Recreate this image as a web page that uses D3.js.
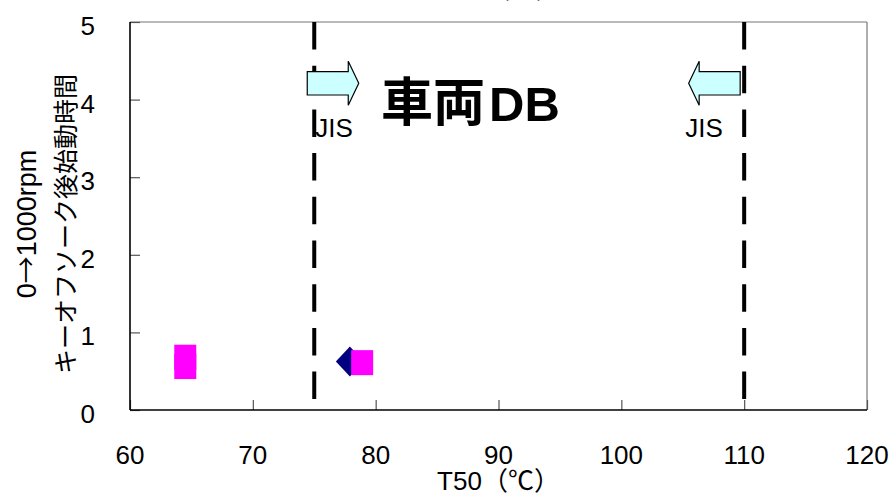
<!DOCTYPE html>
<html>
<head>
<meta charset="utf-8">
<script src="https://cdn.jsdelivr.net/npm/d3@7"></script>
<style>
  html, body { margin: 0; padding: 0; background: #fff; }
  svg { display: block; }
  text { font-family: "Liberation Sans", Arial, "Noto Sans CJK JP", sans-serif; fill: #000; }
  .jp { font-family: "Noto Sans CJK JP", "Liberation Sans", sans-serif; }
</style>
</head>
<body>
<svg id="chart" width="893" height="497"></svg>
<script>
// Axis ticks
const xTicks = [60, 70, 80, 90, 100, 110, 120];
const yTicks = [0, 1, 2, 3, 4, 5];

// Measured points: T50 (°C) vs. restart time after key-off soak
const pinkT50  = [64.5, 64.5, 78.9];
const pinkTime = [0.68, 0.56, 0.61];
const navyT50  = [77.9];
const navyTime = [0.625];

// JIS T50 limits and the arrows that point into the allowed range
const jisLimits = [75, 110];
const jisDirections = ["right", "left"];
const arrowLevel = 4.21;

const svg = d3.select("#chart");
const W = 893, H = 497;
const m = { left: 130, right: 26, top: 22, bottom: 87 };

const x = d3.scaleLinear().domain([60, 120]).range([m.left, W - m.right]);
const y = d3.scaleLinear().domain([0, 5]).range([H - m.bottom, m.top]);

// Figure title, sitting above the top edge of the page
svg.append("text").attr("class", "jp")
  .attr("x", 523).attr("y", -2)
  .attr("text-anchor", "middle")
  .style("font-size", "26px")
  .text("（ａ）");

// Frame: grey top/right, black left/bottom
svg.append("line").attr("x1", x(60)).attr("x2", x(120)).attr("y1", y(5)).attr("y2", y(5))
  .attr("stroke", "#777").attr("stroke-width", 1.2);
svg.append("line").attr("x1", x(120)).attr("x2", x(120)).attr("y1", y(5)).attr("y2", y(0))
  .attr("stroke", "#777").attr("stroke-width", 1.2);

// Inward ticks
const xAxis = d3.axisBottom(x).tickValues(xTicks).tickSize(-10).tickPadding(0).tickFormat("");
const yAxis = d3.axisLeft(y).tickValues(yTicks).tickSize(-10).tickPadding(0).tickFormat("");

const gx = svg.append("g").attr("transform", `translate(0,${y(0)})`).call(xAxis);
gx.select(".domain").remove();
gx.selectAll(".tick line").attr("stroke", "#555").attr("stroke-width", 1.2);

const gy = svg.append("g").attr("transform", `translate(${x(60)},0)`).call(yAxis);
gy.select(".domain").remove();
gy.selectAll(".tick line").attr("stroke", "#555").attr("stroke-width", 1.2);

// Tick labels
svg.append("g").selectAll("text").data(xTicks).join("text")
  .attr("x", d => x(d)).attr("y", 464)
  .attr("text-anchor", "middle")
  .style("font-size", "26px")
  .text(d => d);

svg.append("g").selectAll("text").data(yTicks).join("text")
  .attr("x", 95).attr("y", d => y(d) + 13)
  .attr("text-anchor", "end")
  .style("font-size", "26px")
  .text(d => d);

// JIS limit lines
svg.append("g").selectAll("line").data(jisLimits).join("line")
  .attr("x1", d => x(d)).attr("x2", d => x(d))
  .attr("y1", y(5)).attr("y2", y(0))
  .attr("stroke", "#000").attr("stroke-width", 4)
  .attr("stroke-dasharray", "27.5,16.2");

// Black axis lines on top of the ticks
svg.append("line").attr("x1", x(60)).attr("x2", x(60)).attr("y1", y(5)).attr("y2", y(0))
  .attr("stroke", "#000").attr("stroke-width", 1.6);
svg.append("line").attr("x1", x(60)).attr("x2", x(120)).attr("y1", y(0)).attr("y2", y(0))
  .attr("stroke", "#000").attr("stroke-width", 1.6);

// Block arrows next to each limit line
function arrowPath(cx, cy, dir) {
  const bodyH = 11.7, headH = 22, bodyLen = 41, headLen = 10.5;
  if (dir === "right") {
    const x0 = cx - 7, xb = x0 + bodyLen, xt = xb + headLen;
    return `M${x0},${cy - bodyH}L${xb},${cy - bodyH}L${xb},${cy - headH}L${xt},${cy}` +
           `L${xb},${cy + headH}L${xb},${cy + bodyH}L${x0},${cy + bodyH}Z`;
  } else {
    const x0 = cx - 4, xb = x0 - bodyLen, xt = xb - headLen;
    return `M${x0},${cy - bodyH}L${xb},${cy - bodyH}L${xb},${cy - headH}L${xt},${cy}` +
           `L${xb},${cy + headH}L${xb},${cy + bodyH}L${x0},${cy + bodyH}Z`;
  }
}
svg.append("g").selectAll("path").data(jisLimits).join("path")
  .attr("d", (d, i) => arrowPath(x(d), y(arrowLevel), jisDirections[i]))
  .attr("fill", "#ccffff").attr("stroke", "#000").attr("stroke-width", 1.2)
  .attr("stroke-linejoin", "miter");

// JIS labels
svg.append("g").selectAll("text").data(jisLimits).join("text")
  .attr("x", (d, i) => jisDirections[i] === "right" ? x(d) + 1 : x(d) - 59)
  .attr("y", 137)
  .style("font-size", "26px")
  .text("JIS");

// Dataset label
const dbLabel = svg.append("text")
  .attr("x", 381).attr("y", 121)
  .style("font-weight", "bold");
dbLabel.append("tspan").attr("class", "jp").style("font-size", "52px").text("車両");
dbLabel.append("tspan").attr("dx", 4).style("font-size", "49px").text("DB");

// Navy diamond markers (drawn first, partly behind the squares)
svg.append("g").selectAll("path").data(navyT50).join("path")
  .attr("d", (d, i) => {
    const cx = x(d), cy = y(navyTime[i]);
    return `M${cx - 14},${cy}L${cx},${cy - 15}L${cx + 14},${cy}L${cx},${cy + 15}Z`;
  })
  .attr("fill", "#000080");

// Magenta square markers
svg.append("g").selectAll("rect").data(pinkT50).join("rect")
  .attr("x", d => x(d) - 11)
  .attr("y", (d, i) => y(pinkTime[i]) - 12.5)
  .attr("width", 22).attr("height", 25)
  .attr("fill", "#ff00ff");

// Axis titles
const xTitle = svg.append("text")
  .attr("x", (x(60) + x(120)) / 2).attr("y", 490)
  .attr("text-anchor", "middle")
  .style("font-size", "26px");
xTitle.append("tspan").text("T50");
xTitle.append("tspan").attr("class", "jp").text("（℃）");

const yTitle = svg.append("text")
  .attr("transform", `translate(0,224) rotate(-90)`)
  .attr("text-anchor", "middle");
const l1 = yTitle.append("tspan").attr("x", 0).attr("y", 36).style("font-size", "27px");
l1.append("tspan").text("0");
l1.append("tspan").attr("class", "jp").text("→");
l1.append("tspan").text("1000rpm");
yTitle.append("tspan").attr("class", "jp").attr("x", 0).attr("y", 75)
  .style("font-size", "25px").text("キーオフソーク後始動時間");
</script>
</body>
</html>
